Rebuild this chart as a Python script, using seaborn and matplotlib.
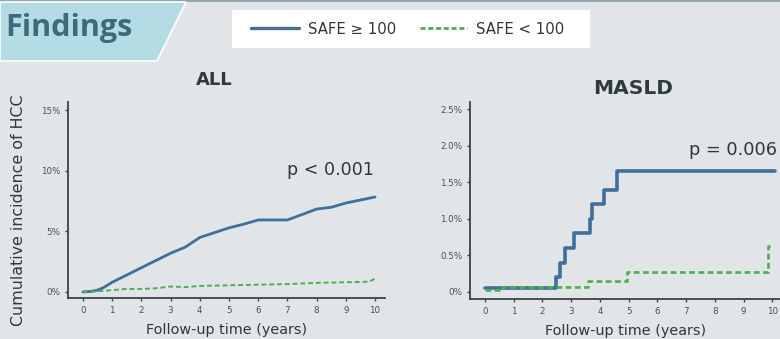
import numpy as np
import pandas as pd
import matplotlib
matplotlib.use("Agg")
import matplotlib.pyplot as plt
import seaborn as sns
from matplotlib.patches import Polygon, Rectangle
from matplotlib.lines import Line2D
from matplotlib.ticker import FuncFormatter

# ALL cohort (years, cumulative incidence %)
all_hi_t = [0, 0.3, 0.5, 0.7, 1, 1.5, 2, 2.5, 3, 3.5, 4, 4.5, 5, 5.5, 6, 6.5, 7, 7.5, 8, 8.5, 9, 9.5, 10]
all_hi_y = [0, 0.05, 0.15, 0.35, 0.8, 1.4, 2.0, 2.6, 3.2, 3.7, 4.5, 4.9, 5.3, 5.6, 5.95, 5.95, 5.95, 6.4, 6.85, 7.0, 7.35, 7.6, 7.85]
all_lo_t = [0, 0.5, 1, 1.5, 2, 2.5, 3, 3.5, 4, 5, 6, 7, 8, 9, 9.8, 10]
all_lo_y = [0, 0.05, 0.15, 0.25, 0.25, 0.3, 0.45, 0.4, 0.5, 0.55, 0.6, 0.65, 0.75, 0.8, 0.85, 1.1]

# MASLD cohort (step curves)
masld_hi_t = [0, 2.47, 2.6, 2.8, 3.1, 3.65, 3.73, 4.15, 4.6, 10.1]
masld_hi_y = [0.05, 0.2, 0.4, 0.6, 0.8, 1.0, 1.2, 1.4, 1.65, 1.65]
masld_lo_t = [0, 0.6, 3.6, 4.95, 9.85, 9.9]
masld_lo_y = [0.02, 0.07, 0.15, 0.27, 0.62, 0.62]

labels = ["SAFE \u2265 100", "SAFE < 100"]
p_texts = ["p < 0.001", "p = 0.006"]

BLUE = "#3f6f9c"
GREEN = "#4cb04c"
BG = "#e1e5e7"
TXT = "#30373a"

sns.set_theme(style="white")
plt.rcParams["font.family"] = ["DejaVu Sans"]

fig = plt.figure(figsize=(7.8, 3.39), dpi=100)
fig.patch.set_facecolor(BG)

# banner
W, H = 780, 339
def fx(x): return x / W
def fy(y): return 1 - y / H
fig.patches.append(Rectangle((0, fy(2)), 1, 2 / H, transform=fig.transFigure,
                             facecolor="#8fa6ab", edgecolor="none"))
fig.patches.append(Polygon([(0, fy(2)), (fx(186), fy(2)), (fx(157), fy(61)), (0, fy(61))],
                           closed=True, transform=fig.transFigure,
                           facecolor="#b4dce5", edgecolor="white", linewidth=1.2))
fig.text(fx(5), fy(28), "Findings", fontsize=22, fontweight="bold",
         color="#3d6b78", va="center", ha="left", family=["Open Sans", "DejaVu Sans"])

# legend box
fig.patches.append(Rectangle((fx(232), fy(48)), fx(590) - fx(232), 38 / H,
                             transform=fig.transFigure, facecolor="white", edgecolor="none"))
handles = [Line2D([], [], color=BLUE, lw=2.4, ls="-"),
           Line2D([], [], color=GREEN, lw=2.0, ls=(0, (1.8, 1.0)))]
fig.legend(handles, labels, loc="center", bbox_to_anchor=(fx(408), fy(29)), ncol=2,
           frameon=False, fontsize=10.7, handlelength=3.2, columnspacing=1.6,
           handletextpad=0.6, labelcolor=TXT)

def style_ax(ax, xlim, ylim, yticks, fmt):
    ax.set_facecolor(BG)
    ax.set_xlim(*xlim)
    ax.set_ylim(*ylim)
    ax.set_xticks(range(0, 11))
    ax.set_yticks(yticks)
    ax.yaxis.set_major_formatter(FuncFormatter(fmt))
    for s in ["top", "right"]:
        ax.spines[s].set_visible(False)
    for s in ["left", "bottom"]:
        ax.spines[s].set_color("#3c4245")
        ax.spines[s].set_linewidth(1.3)
    ax.tick_params(axis="both", direction="out", length=2.5, width=1, color="#3c4245",
                   labelsize=6.3, labelcolor="#4a5053", pad=3)
    ax.tick_params(axis="both", bottom=True, left=True)

ax1 = fig.add_axes([fx(68), fy(298), fx(385) - fx(68), (298 - 102) / H])
ax2 = fig.add_axes([fx(470), fy(299), fx(781) - fx(470), (299 - 102) / H])

df_all = pd.concat([
    pd.DataFrame({"t": all_hi_t, "y": all_hi_y, "grp": labels[0]}),
    pd.DataFrame({"t": all_lo_t, "y": all_lo_y, "grp": labels[1]}),
])
sns.lineplot(data=df_all[df_all.grp == labels[0]], x="t", y="y", ax=ax1,
             color=BLUE, lw=2.0, legend=False)
sns.lineplot(data=df_all[df_all.grp == labels[1]], x="t", y="y", ax=ax1,
             color=GREEN, lw=1.4, ls=(0, (2.5, 1.5)), legend=False)

sns.lineplot(x=masld_hi_t, y=masld_hi_y, ax=ax2, color=BLUE, lw=2.6,
             drawstyle="steps-post", legend=False)
sns.lineplot(x=masld_lo_t, y=masld_lo_y, ax=ax2, color=GREEN, lw=1.9,
             ls=(0, (2.2, 1.3)), drawstyle="steps-post", legend=False)

style_ax(ax1, (-0.51, 10.34), (-0.5, 15.7), [0, 5, 10, 15], lambda v, p: f"{v:.0f}%")
style_ax(ax2, (-0.52, 10.3), (-0.1, 2.6), [0, 0.5, 1.0, 1.5, 2.0, 2.5],
         lambda v, p: "0%" if v == 0 else f"{v:.1f}%")

for ax in (ax1, ax2):
    ax.set_xlabel("Follow-up time (years)", fontsize=10.4, color=TXT, labelpad=6)
    ax.set_ylabel("")
ax1.set_ylabel("Cumulative incidence of HCC", fontsize=11.4, color=TXT)
ax1.yaxis.set_label_coords((26 - 68) / (385 - 68), (298 - 210) / (298 - 102))

ax1.set_title("ALL", fontsize=13, fontweight="bold", color="#2f3a3d", pad=12,
              x=(214 - 68) / (385 - 68))
ax2.set_title("MASLD", fontsize=14.5, fontweight="bold", color="#2f3a3d", pad=6,
              x=(633 - 470) / (781 - 470))

ax1.text(7.0, 10.1, p_texts[0], fontsize=12.6, color=TXT, va="center", ha="left")
ax2.text(7.1, 1.94, p_texts[1], fontsize=12.8, color=TXT, va="center", ha="left",
         clip_on=False)

fig.savefig("out.png", dpi=100, facecolor=BG)
